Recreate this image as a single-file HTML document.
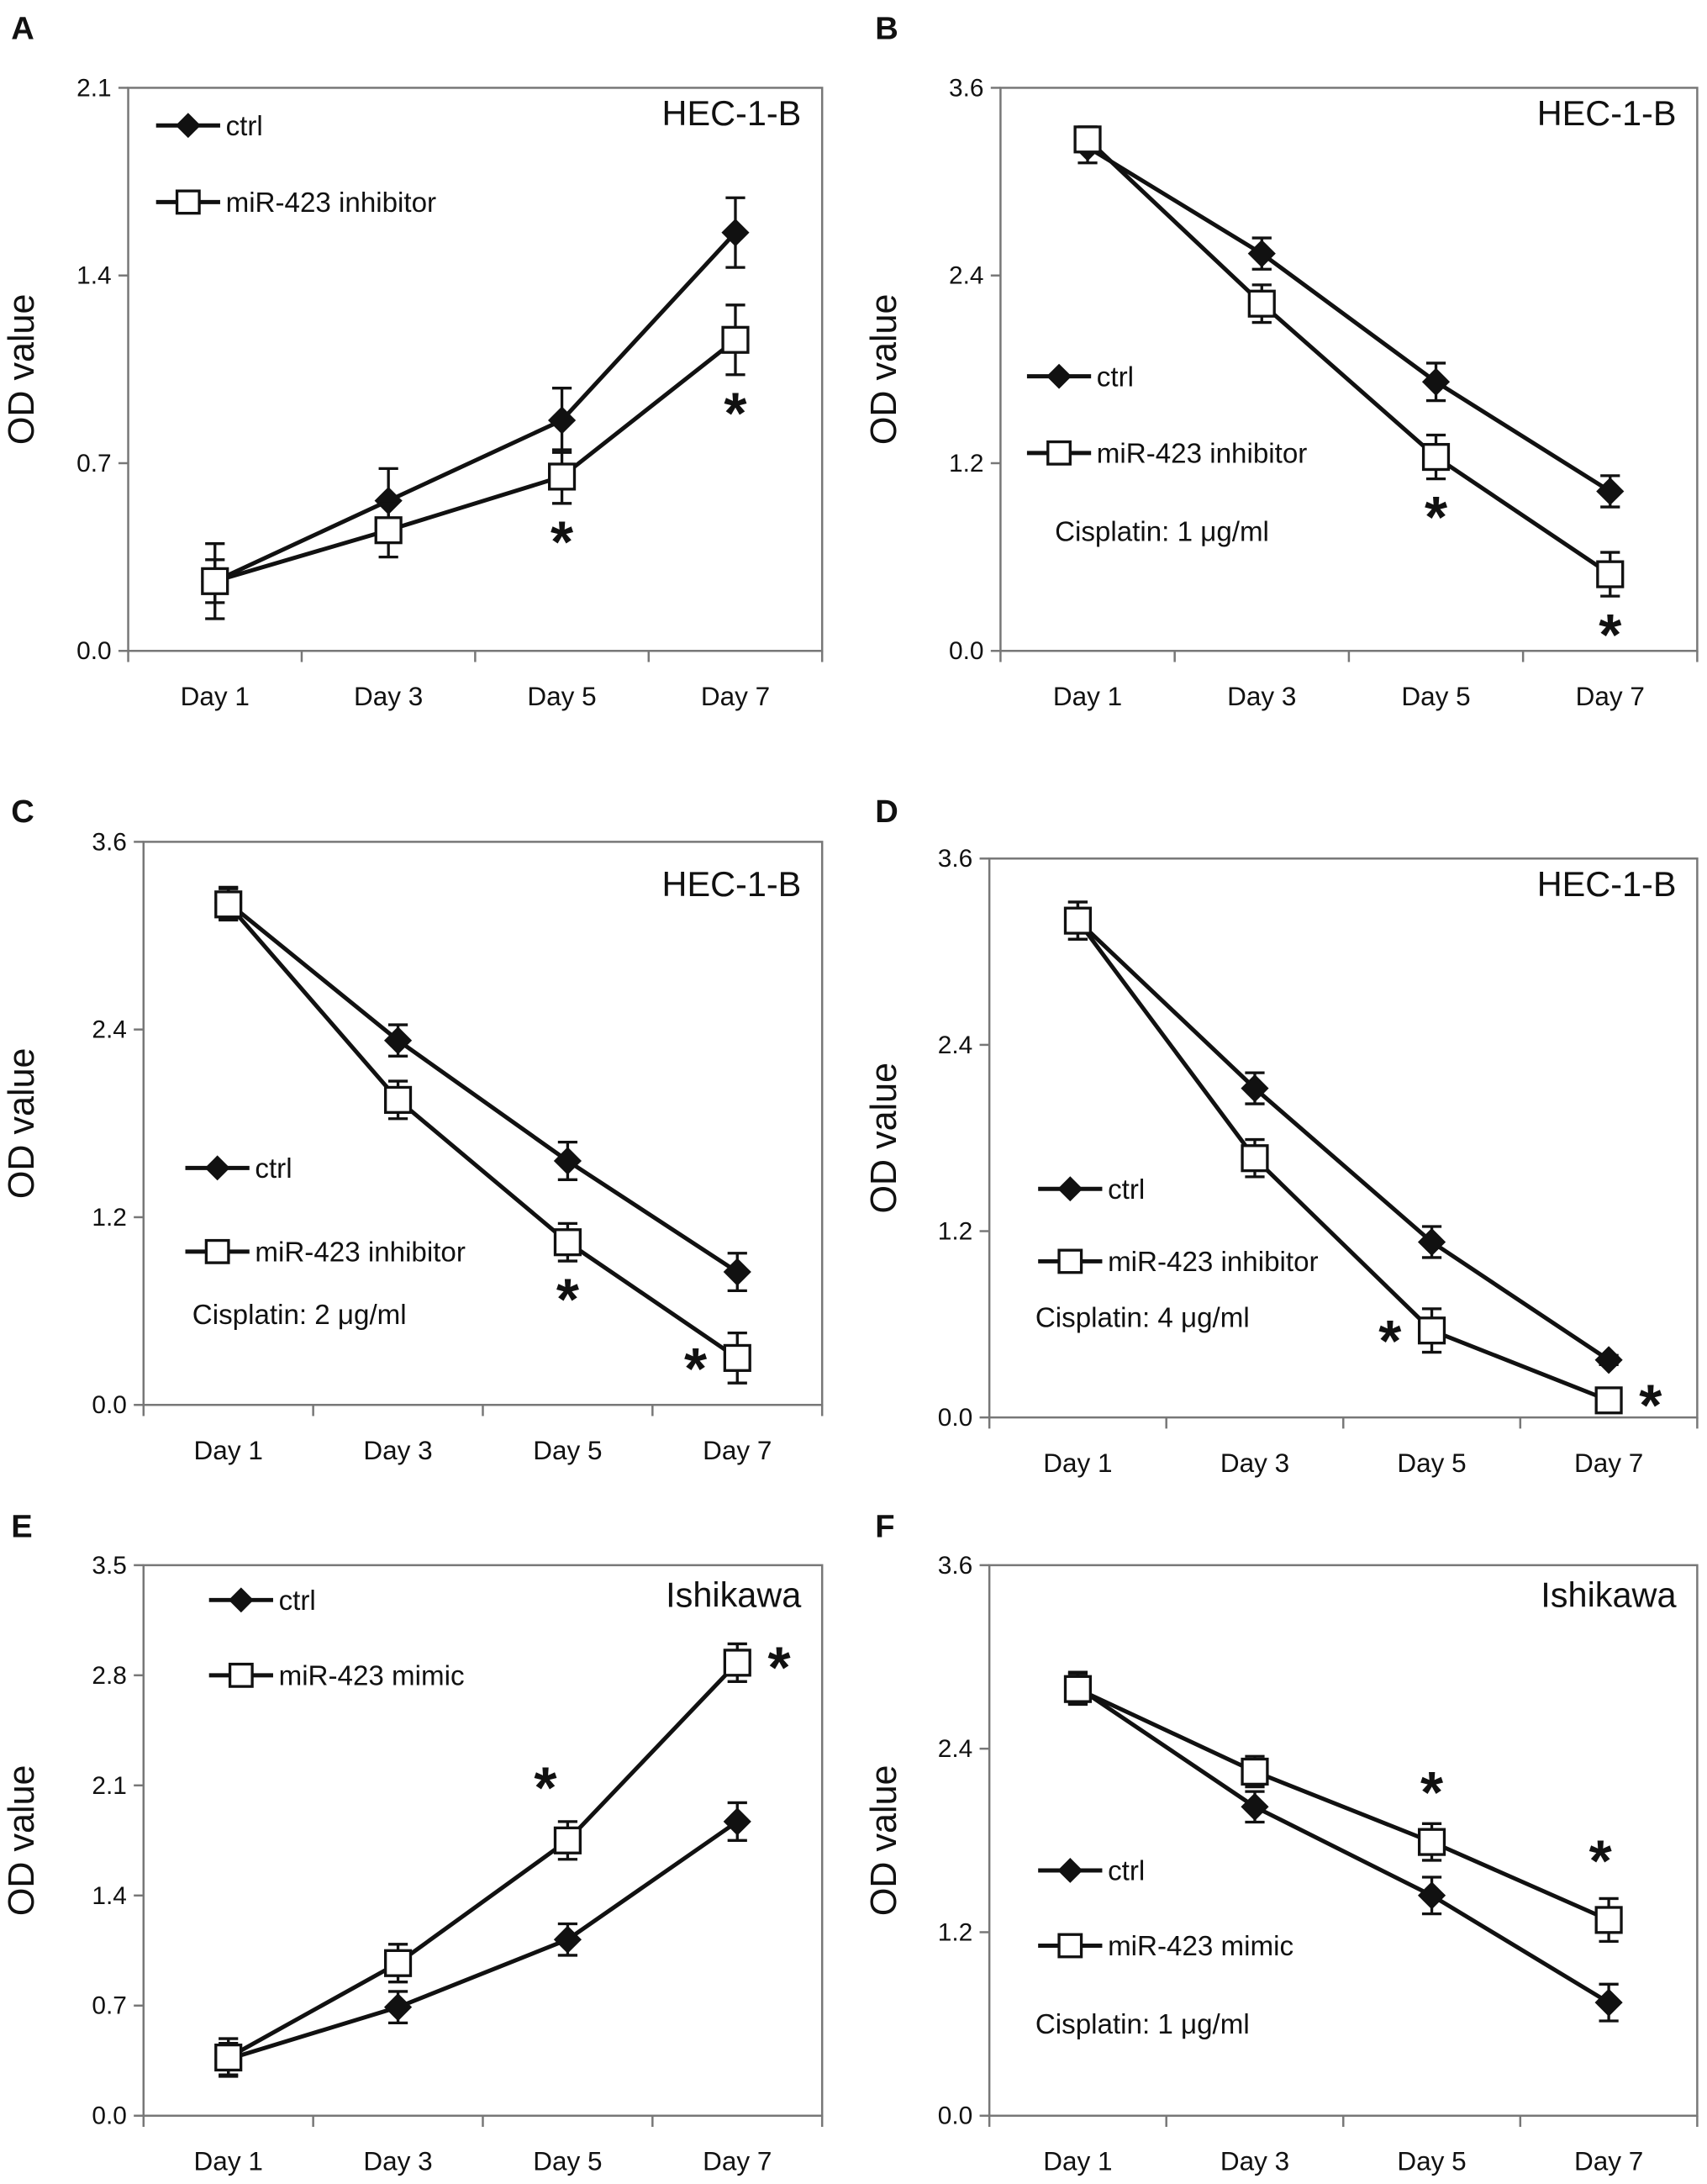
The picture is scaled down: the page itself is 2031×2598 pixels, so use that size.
<!DOCTYPE html>
<html><head><meta charset="utf-8"><style>
html,body{margin:0;padding:0;background:#fff}
svg{display:block}
text{font-family:"Liberation Sans",sans-serif;fill:#111}
</style></head><body>
<svg id="fig" width="2031" height="2598" viewBox="0 0 1225 1567" xmlns="http://www.w3.org/2000/svg"></svg>
<script>
const days = ["Day 1","Day 3","Day 5","Day 7"];
const aCtrl = [0.26,0.56,0.86,1.56], aCtrlErr=[0.14,0.12,0.12,0.13];
const aTrt  = [0.26,0.45,0.65,1.16], aTrtErr=[0.08,0.1,0.1,0.13];
const bCtrl = [3.22,2.54,1.72,1.02], bCtrlErr=[0.1,0.1,0.12,0.1];
const bTrt  = [3.27,2.22,1.24,0.49], bTrtErr=[0.08,0.12,0.14,0.14];
const cCtrl = [3.21,2.33,1.56,0.85], cCtrlErr=[0.1,0.1,0.12,0.12];
const cTrt  = [3.2,1.95,1.04,0.3],  cTrtErr=[0.1,0.12,0.12,0.16];
const dCtrl = [3.2,2.12,1.13,0.37], dCtrlErr=[0.12,0.1,0.1,0.03];
const dTrt  = [3.2,1.67,0.56,0.11], dTrtErr=[0.12,0.12,0.14,0.02];
const eCtrl = [0.36,0.69,1.12,1.87], eCtrlErr=[0.1,0.1,0.1,0.12];
const eTrt  = [0.37,0.97,1.75,2.88], eTrtErr=[0.12,0.12,0.12,0.12];
const fCtrl = [2.8,2.02,1.44,0.74], fCtrlErr=[0.1,0.1,0.12,0.12];
const fTrt  = [2.79,2.25,1.79,1.28], fTrtErr=[0.1,0.1,0.12,0.14];
const ticksA=[0,0.7,1.4,2.1], ticks36=[0,1.2,2.4,3.6], ticksE=[0,0.7,1.4,2.1,2.8,3.5];

const NS="http://www.w3.org/2000/svg", svg=document.getElementById('fig');
function mk(tag,attrs,parent,txt){const e=document.createElementNS(NS,tag);for(const k in attrs)e.setAttribute(k,attrs[k]);if(txt!==undefined)e.textContent=txt;(parent||svg).appendChild(e);return e;}

const panels=[
 {id:'a',letter:'A',lx:8,ly:28,tx:24,L:92,T:63,R:590,B:467,max:2.1,ticks:ticksA,ctrl:aCtrl,ce:aCtrlErr,trt:aTrt,te:aTrtErr,trtName:'miR-423 inhibitor',cell:'HEC-1-B',cellY:90,leg:[112,90,145],cis:null,stars:[[2,'below'],[3,'below']]},
 {id:'b',letter:'B',lx:628,ly:28,tx:643,L:718,T:63,R:1218,B:467,max:3.6,ticks:ticks36,ctrl:bCtrl,ce:bCtrlErr,trt:bTrt,te:bTrtErr,trtName:'miR-423 inhibitor',cell:'HEC-1-B',cellY:90,leg:[737,270,325],cis:['Cisplatin: 1 μg/ml',757,388],stars:[[2,'below'],[3,'below']]},
 {id:'c',letter:'C',lx:8,ly:590,tx:24,L:103,T:604,R:590,B:1008,max:3.6,ticks:ticks36,ctrl:cCtrl,ce:cCtrlErr,trt:cTrt,te:cTrtErr,trtName:'miR-423 inhibitor',cell:'HEC-1-B',cellY:643,leg:[133,838,898],cis:['Cisplatin: 2 μg/ml',138,950],stars:[[2,'below'],[3,'left']]},
 {id:'d',letter:'D',lx:628,ly:590,tx:643,L:710,T:616,R:1218,B:1017,max:3.6,ticks:ticks36,ctrl:dCtrl,ce:dCtrlErr,trt:dTrt,te:dTrtErr,trtName:'miR-423 inhibitor',cell:'HEC-1-B',cellY:643,leg:[745,853,905],cis:['Cisplatin: 4 μg/ml',743,952],stars:[[2,'left'],[3,'right']]},
 {id:'e',letter:'E',lx:8,ly:1103,tx:24,L:103,T:1123,R:590,B:1518,max:3.5,ticks:ticksE,ctrl:eCtrl,ce:eCtrlErr,trt:eTrt,te:eTrtErr,trtName:'miR-423 mimic',cell:'Ishikawa',cellY:1153,leg:[150,1148,1202],cis:null,stars:[[2,'aboveLeft'],[3,'right']]},
 {id:'f',letter:'F',lx:628,ly:1103,tx:643,L:710,T:1123,R:1218,B:1518,max:3.6,ticks:ticks36,ctrl:fCtrl,ce:fCtrlErr,trt:fTrt,te:fTrtErr,trtName:'miR-423 mimic',cell:'Ishikawa',cellY:1153,leg:[745,1342,1396],cis:['Cisplatin: 1 μg/ml',743,1459],stars:[[2,'above'],[3,'above']]}
];

panels.forEach(p=>{
 const g=mk('g',{});
 
 
 const bw=(p.R-p.L)/4;
 const xs=i=>p.L+bw*(i+0.5);
 const ys=v=>p.B-(v/p.max)*(p.B-p.T);
 const lt=mk('text',{x:p.lx,y:p.ly,'font-size':23,'font-weight':'bold'},g,p.letter);
 
 
 const box=mk('rect',{x:p.L,y:p.T,width:p.R-p.L,height:p.B-p.T,fill:'none',stroke:'#777','stroke-width':1.5},g);
 
 
 p.ticks.forEach(t=>{
  mk('line',{x1:p.L-7,x2:p.L,y1:ys(t),y2:ys(t),stroke:'#777','stroke-width':1.5},g);
  const tl=mk('text',{x:p.L-12,y:ys(t)+6,'font-size':18,'text-anchor':'end'},g,t.toFixed(1));
  
  
 });
 for(let i=0;i<=4;i++) mk('line',{x1:p.L+bw*i,x2:p.L+bw*i,y1:p.B,y2:p.B+8,stroke:'#777','stroke-width':1.5},g);
 days.forEach((d,i)=>{
  const xl=mk('text',{x:xs(i),y:p.B+39,'font-size':19,'text-anchor':'middle'},g,d);
  
  
 });
 const yt=mk('text',{x:0,y:0,'font-size':26,'text-anchor':'middle',transform:`translate(${p.tx},${(p.T+p.B)/2}) rotate(-90)`},g,'OD value');
 
 
 const ct=mk('text',{x:p.R-15,y:p.cellY,'font-size':25,'text-anchor':'end'},g,p.cell);
 
 
 function series(vals,errs,type){
  const pts=vals.map((v,i)=>xs(i)+','+ys(v)).join(' ');
  const ln=mk('polyline',{points:pts,fill:'none',stroke:'#111','stroke-width':3},g);
  
  
  vals.forEach((v,i)=>{
   const x=xs(i),y1=ys(v+errs[i]),y2=ys(v-errs[i]);
   const eb=mk('path',{d:`M${x},${y1}V${y2}M${x-7},${y1}H${x+7}M${x-7},${y2}H${x+7}`,stroke:'#111','stroke-width':2,fill:'none'},g);
   
   
  });
  vals.forEach((v,i)=>{
   const x=xs(i),y=ys(v);let m;
   if(type==='ctrl') m=mk('polygon',{points:`${x},${y-10} ${x+10},${y} ${x},${y+10} ${x-10},${y}`,fill:'#111'},g);
   else m=mk('rect',{x:x-9,y:y-9,width:18,height:18,fill:'#fff',stroke:'#111','stroke-width':2},g);
   
   
  });
 }
 series(p.ctrl,p.ce,'ctrl');
 series(p.trt,p.te,'treatment');
 const lx=p.leg[0];
 const l1=mk('g',{},g);
 
 
 mk('line',{x1:lx,x2:lx+46,y1:p.leg[1],y2:p.leg[1],stroke:'#111','stroke-width':3},l1);
 mk('polygon',{points:`${lx+23},${p.leg[1]-9} ${lx+32},${p.leg[1]} ${lx+23},${p.leg[1]+9} ${lx+14},${p.leg[1]}`,fill:'#111'},l1);
 mk('text',{x:lx+50,y:p.leg[1]+7,'font-size':20},l1,'ctrl');
 const l2=mk('g',{},g);
 
 
 mk('line',{x1:lx,x2:lx+46,y1:p.leg[2],y2:p.leg[2],stroke:'#111','stroke-width':3},l2);
 mk('rect',{x:lx+15,y:p.leg[2]-8,width:16,height:16,fill:'#fff',stroke:'#111','stroke-width':2},l2);
 mk('text',{x:lx+50,y:p.leg[2]+7,'font-size':20},l2,p.trtName);
 if(p.cis){
  const c=mk('text',{x:p.cis[1],y:p.cis[2],'font-size':20},g,p.cis[0]);
  
  
 }
 p.stars.forEach(([i,pos])=>{
  const v=p.trt[i];let x=xs(i),y;
  if(pos==='below'){y=ys(v-p.te[i])+42;}
  else if(pos==='left'){x-=30;y=ys(v)+22;}
  else if(pos==='right'){x+=30;y=ys(v)+18;}
  else if(pos==='aboveLeft'){x-=16;y=ys(v+p.te[i])-10;}
  else {y=ys(v+p.te[i])-8;}
  if(p.id==='f'&&i===3){y=ys(p.trt[i])-28;x-=6;}
  const s=mk('text',{x:x,y:y,'font-size':42,'font-weight':'bold','text-anchor':'middle'},g,'*');
  
  
 });
});
</script>
</body></html>
